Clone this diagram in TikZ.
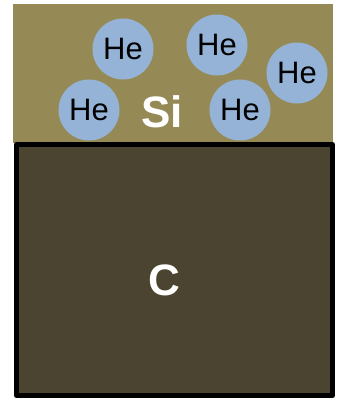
\documentclass[tikz,border=0pt]{standalone}
\usepackage{fontspec}
\setmainfont{Liberation Sans}
\definecolor{siolive}{HTML}{958A55}
\definecolor{cdark}{HTML}{4A4430}
\definecolor{heblue}{HTML}{95B3D7}
\begin{document}
\begin{tikzpicture}[x=1pt,y=-1pt,
  atom/.style={circle,fill=heblue,minimum size=61pt,inner sep=0pt,font=\fontsize{31}{31}\selectfont},
  label/.style={text=white,font=\fontsize{44}{44}\selectfont\bfseries}]
\useasboundingbox[fill=white] (0,0) rectangle (337,405);
% silicon layer
\fill[siolive] (13,4) rectangle (333,143);
% carbon substrate
\draw[fill=cdark,line width=5pt,line join=round] (16.5,144.5) rectangle (332.5,395.5);
\node[label] (si) at (162,112) {Si};
\node[label] (c) at (164,280) {C};
% helium atoms
\node[atom] (he1) at (123,49) {He};
\node[atom] (he2) at (217,45) {He};
\node[atom] (he3) at (297,73) {He};
\node[atom] (he4) at (89,110) {He};
\node[atom] (he5) at (240,110) {He};
\end{tikzpicture}
\end{document}
